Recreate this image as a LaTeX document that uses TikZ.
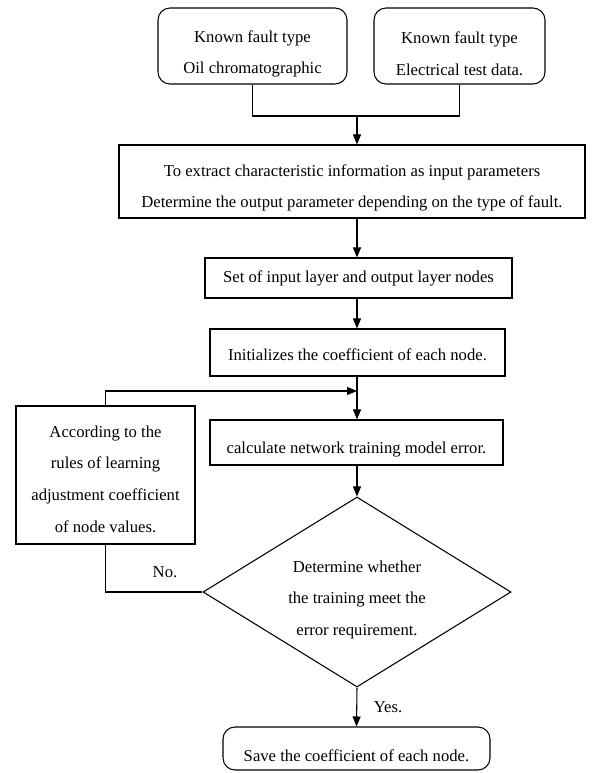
\documentclass[tikz,border=0pt]{standalone}
\usepackage{fontspec}
\setmainfont{Liberation Serif}
\usetikzlibrary{arrows.meta,positioning,shapes.geometric,calc}
\newcommand\padtop[1]{\rule{0pt}{#1}}
\tikzset{%
  % boxes
  proc/.style={draw, line width=0.8pt, align=center, inner sep=0pt,
    font=\fontsize{12.5}{23.7}\selectfont},
  term/.style={proc, rounded corners=9pt},
  test/.style={proc, diamond, aspect=1.6},
  % edges
  flow/.style={-{Triangle[length=7.5pt,width=6pt]}, line width=0.8pt},
  wire/.style={line width=0.8pt},
  lbl/.style={font=\fontsize{12.5}{15}\selectfont, inner sep=0pt},
}

\begin{document}
\begin{tikzpicture}[x=0.75pt, y=-0.75pt]
  \useasboundingbox (0,0) rectangle (592,773);

  \node[term, minimum width=141.75pt, minimum height=57pt] (oil) at (252.5,46)
    {\padtop{20.6pt}Known fault type\\Oil chromatographic};
  \node[term, minimum width=128.25pt, minimum height=57pt] (elec) at (459.5,46)
    {\padtop{20.6pt}Known fault type\\Electrical test data.};
  \node[proc, minimum width=349.5pt, minimum height=54.75pt] (extract) at (352,181.5)
    {\padtop{18.6pt}To extract characteristic information as input parameters\\
     Determine the output parameter depending on the type of fault.};
  \node[proc, minimum width=230.25pt, minimum height=30pt] (layers) at (358.5,278)
    {Set of input layer and output layer nodes};
  \node[proc, minimum width=221.25pt, minimum height=35.25pt] (init) at (357.5,352.5)
    {\padtop{11.6pt}Initializes the coefficient of each node.};
  \node[proc, minimum width=219.75pt, minimum height=33.75pt] (calc) at (356.5,442.5)
    {\padtop{19pt}calculate network training model error.};
  \node[test, minimum width=231pt, minimum height=142.5pt] (check) at (357,592)
    {\padtop{20.6pt}Determine whether\\the training meet the\\error requirement.};
  \node[proc, minimum width=134.25pt, minimum height=103.5pt] (adjust) at (105.5,475)
    {\padtop{14.6pt}According to the\\rules of learning\\adjustment coefficient\\of node values.};
  \node[term, minimum width=200.25pt, minimum height=32.25pt] (save) at (356.5,748.5)
    {\padtop{19pt}Save the coefficient of each node.};

  \coordinate (join) at (357,116);
  \coordinate (back) at (357,391);

  \draw[wire] (oil.south) |- (join) -| (elec.south);
  \draw[flow] (join) -- (join |- extract.north);
  \draw[flow] (extract.south -| join) -- (join |- layers.north);
  \draw[flow] (layers.south -| join) -- (join |- init.north);
  \draw[flow] (init.south -| join) -- (join |- calc.north);
  \draw[flow] (calc.south -| join) -- (check.north);
  \draw[wire] (check.west) -| (adjust.south);
  \draw[flow] (adjust.north) |- (back);
  \draw[flow] (check.south) -- (save.north);

  \node[lbl] (no) at (165,572) {No.};
  \node[lbl] (yes) at (388,707) {Yes.};
\end{tikzpicture}
\end{document}
